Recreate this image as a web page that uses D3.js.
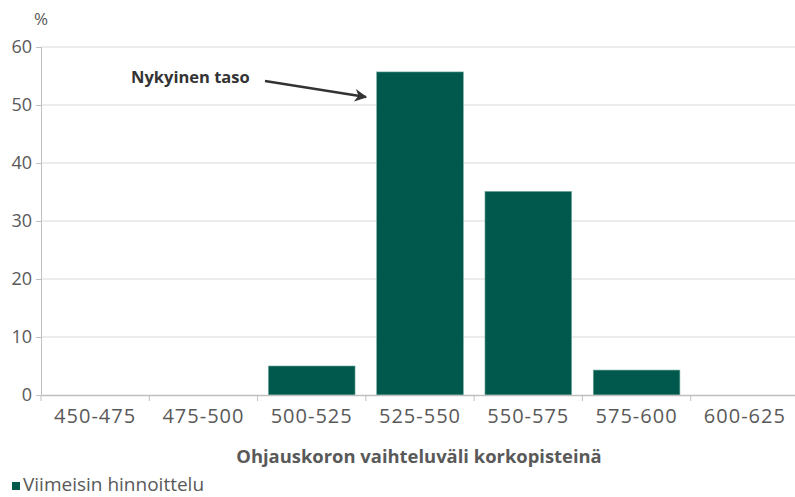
<!DOCTYPE html>
<html>
<head>
<meta charset="utf-8">
<script src="https://cdn.jsdelivr.net/npm/d3@7"></script>
<style>
  body { margin: 0; background: #fff; }
  svg { display: block; }
  svg text { font-family: "Open Sans", sans-serif; }
</style>
</head>
<body>
<div id="chart"></div>
<script>
// Data
const categories = ["450-475", "475-500", "500-525", "525-550", "550-575", "575-600", "600-625"];
const values = [0, 0, 5.0, 55.7, 35.1, 4.3, 0];
const yTicks = [0, 10, 20, 30, 40, 50, 60];
const seriesName = "Viimeisin hinnoittelu";
const xTitle = "Ohjauskoron vaihteluväli korkopisteinä";
const annotation = "Nykyinen taso";

const width = 795, height = 497;
const margin = { top: 47, right: -4, bottom: 102, left: 41 };
const textColor = "#595959";
const barColor = "#00594c";

const svg = d3.select("#chart").append("svg")
    .attr("width", width)
    .attr("height", height);

const x = d3.scaleBand()
    .domain(categories)
    .range([margin.left, width - margin.right])
    .paddingInner(0.2)
    .paddingOuter(0.1);

const y = d3.scaleLinear()
    .domain([0, 60])
    .range([height - margin.bottom, margin.top]);

// gridlines
svg.append("g")
    .selectAll("line")
    .data(yTicks.filter(d => d > 0))
    .join("line")
    .attr("x1", margin.left)
    .attr("x2", width)
    .attr("y1", d => y(d))
    .attr("y2", d => y(d))
    .attr("stroke", "#d9d9d9")
    .attr("stroke-width", 1);

// y axis
const yAxis = svg.append("g")
    .attr("transform", `translate(${margin.left},0)`)
    .call(d3.axisLeft(y).tickValues(yTicks).tickSize(5).tickPadding(4));
yAxis.select(".domain").attr("stroke", "#bfbfbf");
yAxis.selectAll(".tick line").attr("stroke", "#bfbfbf");
yAxis.selectAll("text")
    .attr("fill", textColor)
    .style("font-size", "18px");

svg.append("text")
    .attr("x", 41)
    .attr("y", 25)
    .attr("text-anchor", "middle")
    .attr("fill", textColor)
    .style("font-size", "17px")
    .text("%");

// bars
svg.append("g")
    .selectAll("rect")
    .data(categories.map((c, i) => ({ c, v: values[i] })).filter(d => d.v > 0))
    .join("rect")
    .attr("x", d => x(d.c))
    .attr("y", d => y(d.v))
    .attr("width", x.bandwidth())
    .attr("height", d => y(0) - y(d.v))
    .attr("fill", barColor)
    .attr("stroke", "#6fa89e")
    .attr("stroke-width", 0.6);

// x axis
const xAxis = svg.append("g")
    .attr("transform", `translate(0,${y(0)})`)
    .call(d3.axisBottom(x).tickSize(0).tickPadding(14));
xAxis.select(".domain").attr("stroke", "#bfbfbf").attr("stroke-width", 1.5);
xAxis.selectAll("text")
    .attr("fill", textColor)
    .style("font-size", "20px")
    .style("letter-spacing", "1px")
    .attr("dy", "0.71em");

// category separator ticks
const step = x.step();
svg.append("g")
    .selectAll("line")
    .data(d3.range(categories.length))
    .join("line")
    .attr("x1", i => x(categories[i]) - step * 0.1)
    .attr("x2", i => x(categories[i]) - step * 0.1)
    .attr("y1", y(0))
    .attr("y2", y(0) + 6)
    .attr("stroke", "#bfbfbf");

// x title
svg.append("text")
    .attr("x", 419)
    .attr("y", 463)
    .attr("text-anchor", "middle")
    .attr("fill", textColor)
    .style("font-size", "18.4px")
    .style("font-weight", "bold")
    .text(xTitle);

// annotation
svg.append("defs").append("marker")
    .attr("id", "arrow")
    .attr("viewBox", "0 0 10 10")
    .attr("refX", 9)
    .attr("refY", 5)
    .attr("markerWidth", 5)
    .attr("markerHeight", 5)
    .attr("orient", "auto")
    .append("path")
    .attr("d", "M0,0 L10,5 L0,10 L3,5 Z")
    .attr("fill", "#333");

svg.append("text")
    .attr("x", 131)
    .attr("y", 83)
    .attr("fill", "#333")
    .style("font-size", "16.5px")
    .style("font-weight", "bold")
    .text(annotation);

svg.append("line")
    .attr("x1", 265)
    .attr("y1", 81)
    .attr("x2", 366)
    .attr("y2", 97)
    .attr("stroke", "#333")
    .attr("stroke-width", 2.5)
    .attr("marker-end", "url(#arrow)");

// legend
svg.append("rect")
    .attr("x", 12)
    .attr("y", 482)
    .attr("width", 8)
    .attr("height", 8)
    .attr("fill", barColor);

svg.append("text")
    .attr("x", 23)
    .attr("y", 491)
    .attr("fill", textColor)
    .style("font-size", "19px")
    .text(seriesName);
</script>
</body>
</html>
